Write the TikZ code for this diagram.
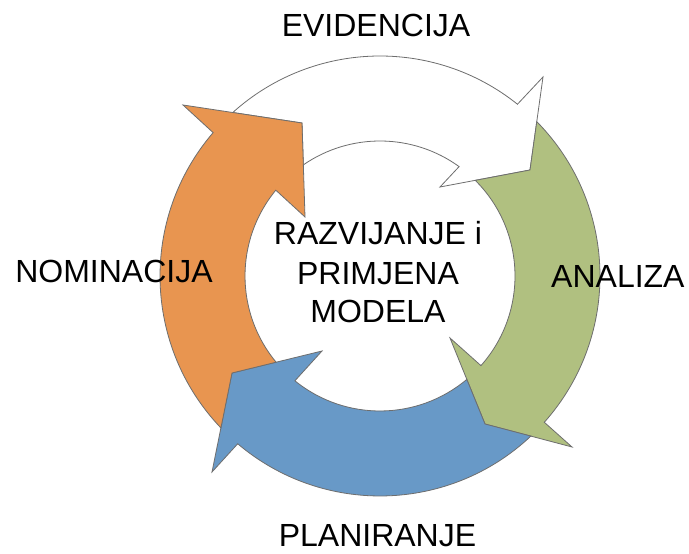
\documentclass[tikz,border=0pt]{standalone}
\usepackage{fontspec}
\setmainfont{Liberation Sans}
\definecolor{orangeA}{RGB}{232,149,80}
\definecolor{greenA}{RGB}{176,192,128}
\definecolor{blueA}{RGB}{104,153,199}
\definecolor{edgeA}{RGB}{110,110,110}
\begin{document}
\begin{tikzpicture}[x=1bp,y=1bp,
  arrowshape/.style={draw=edgeA, line width=0.8bp, line join=miter},
  lbl/.style={font=\fontsize{32bp}{39bp}\selectfont, inner sep=0pt, anchor=base}]
\useasboundingbox (0,0) rectangle (689,554);
\fill[white] (0,0) rectangle (689,554);
\begin{scope}[shift={(380,278)}]
  % white arrow (EVIDENCIJA)
  \path[arrowshape, fill=white] (132.0:220) arc[start angle=132.0, end angle=51.33, radius=220]
    -- (163,199) -- (150,106) -- (60,89) -- (54.13:135)
    arc[start angle=54.13, end angle=124.6, radius=135] -- (-78,153) -- cycle;
  % green arrow (ANALIZA)
  \path[arrowshape, fill=greenA] (44.55:220) arc[start angle=44.55, end angle=-41.68, radius=220]
    -- (192,-171) -- (105,-148) -- (70,-62) -- (-41.6:135)
    arc[start angle=-41.6, end angle=45.1, radius=135] -- (150,106) -- cycle;
  % blue arrow (PLANIRANJE)
  \path[arrowshape, fill=blueA] (-46.69:220) arc[start angle=-46.69, end angle=-130.3, radius=220]
    -- (-168,-196) -- (-148,-97) -- (-58,-75) -- (-129.08:135)
    arc[start angle=-129.08, end angle=-49.99, radius=135] -- (105,-148) -- cycle;
  % orange arrow (NOMINACIJA)
  \path[arrowshape, fill=orangeA] (223.68:220) arc[start angle=223.68, end angle=139.33, radius=220]
    -- (-197,171) -- (-78,153) -- (-75,59) -- (140.53:135)
    arc[start angle=140.53, end angle=219.68, radius=135] -- (-148,-97) -- cycle;
\end{scope}
\node[lbl] (evid) at (376,517) {EVIDENCIJA};
\node[lbl] (nomin) at (114,271) {NOMINACIJA};
\node[lbl, anchor=base west] (anal) at (551,266) {ANALIZA};
\node[lbl] (plan) at (377.5,7) {PLANIRANJE};
\node[lbl] (c1) at (378,309) {RAZVIJANJE i};
\node[lbl] (c2) at (378,269.5) {PRIMJENA};
\node[lbl] (c3) at (378,231) {MODELA};
\end{tikzpicture}
\end{document}
